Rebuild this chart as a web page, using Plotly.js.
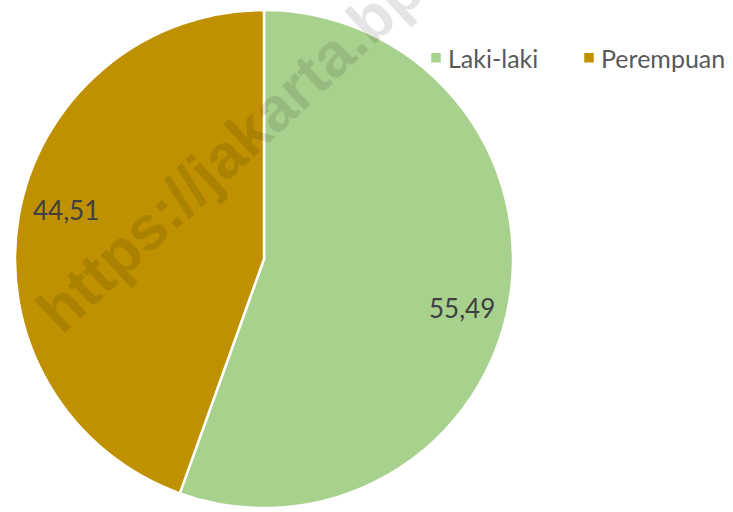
<!DOCTYPE html>
<html>
<head>
<meta charset="utf-8">
<script src="https://cdn.plot.ly/plotly-3.0.1.min.js"></script>
<style>
  html, body { margin: 0; padding: 0; background: #ffffff; }
  #chart { width: 733px; height: 512px; }
</style>
</head>
<body>
<div id="chart"></div>
<script>
// Komposisi penduduk menurut jenis kelamin (persen)
const categories = ['Laki-laki', 'Perempuan'];
const shares = [55.49, 44.51];
const sliceColors = ['#A9D18E', '#BF9000'];

const W = 733, H = 512;
// pie geometry in pixels (centre and radius)
const cx = 264, cy = 259, R = 249;

const pie = {
  type: 'pie',
  labels: categories,
  values: shares,
  sort: false,
  direction: 'clockwise',
  rotation: 0,
  textinfo: 'none',
  hoverinfo: 'none',
  marker: { colors: sliceColors, line: { color: '#ffffff', width: 2.5 } },
  domain: {
    x: [(cx - R) / W, (cx + R) / W],
    y: [(H - cy - R) / H, (H - cy + R) / H]
  }
};

// value labels placed along each slice's bisector
const total = shares.reduce((a, b) => a + b, 0);
const labelRadius = 0.82;
const angleNudge = 4; // degrees, clockwise
let cum = 0;
const valueLabels = shares.map(v => {
  const mid = (cum + v / 2) / total * 360 + angleNudge;
  cum += v;
  const a = mid * Math.PI / 180;
  const px = cx + labelRadius * R * Math.sin(a);
  const py = cy - labelRadius * R * Math.cos(a);
  return {
    xref: 'paper', yref: 'paper',
    x: px / W, y: 1 - py / H,
    xanchor: 'center', yanchor: 'middle',
    text: v.toFixed(2).replace('.', ','),
    showarrow: false,
    font: { family: 'Lato, sans-serif', size: 26, color: '#404040' }
  };
});

// faint diagonal site stamp across the pie
const stamp = {
  xref: 'paper', yref: 'paper',
  x: 302 / W, y: 1 - 82 / H,
  xanchor: 'center', yanchor: 'middle',
  text: '<b>https://jakarta.bps.go.id</b>',
  textangle: -43,
  showarrow: false,
  font: { family: 'Liberation Sans, Arial, sans-serif', size: 62, color: 'rgba(0,0,0,0.10)' }
};

const layout = {
  width: W, height: H,
  margin: { l: 0, r: 0, t: 0, b: 0 },
  paper_bgcolor: '#ffffff',
  showlegend: true,
  legend: {
    orientation: 'h',
    x: 408 / W, xanchor: 'left',
    y: 1 - 35 / H, yanchor: 'top',
    bgcolor: 'rgba(0,0,0,0)',
    font: { family: 'Lato, sans-serif', size: 25, color: '#595959' },
    itemwidth: 30,
    entrywidth: 108,
    entrywidthmode: 'pixels',
    traceorder: 'normal'
  },
  annotations: valueLabels.concat([stamp])
};

Plotly.newPlot('chart', [pie], layout, { displayModeBar: false, staticPlot: true }).then(gd => {
  // pull the legend swatches closer to their labels
  gd.querySelectorAll('.legend .legendpoints').forEach(g => {
    g.setAttribute('transform', 'translate(8,0)');
  });
  // let the last legend label run past the fixed entry width
  gd.querySelectorAll('.legend .scrollbox, .legend').forEach(el => {
    el.removeAttribute('clip-path');
  });
});
</script>
</body>
</html>
